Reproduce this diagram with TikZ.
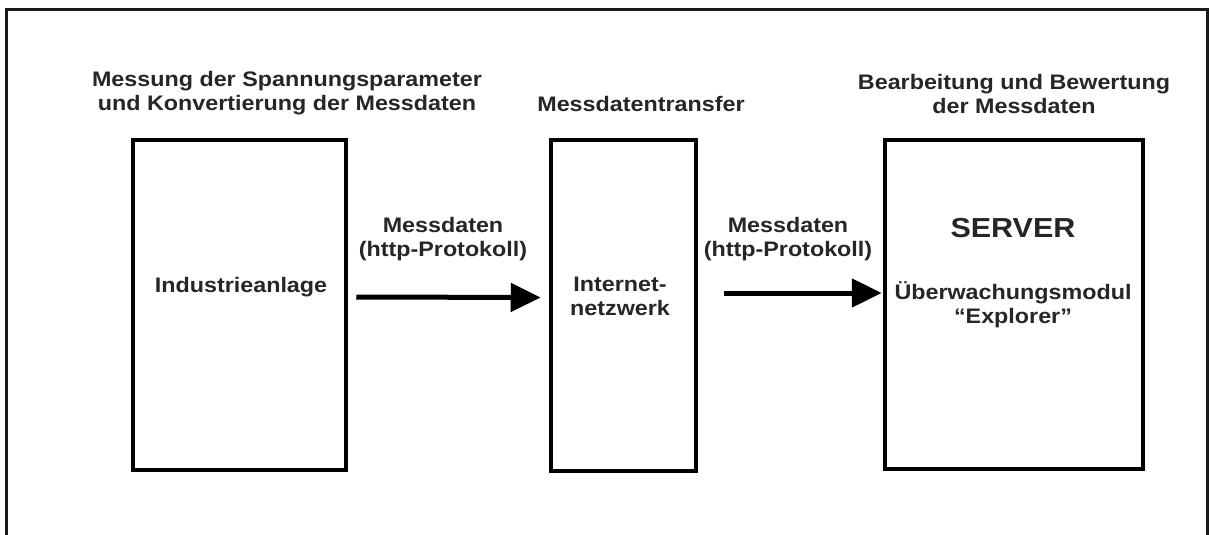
\documentclass[tikz,border=0pt]{standalone}
\usepackage{fontspec}
\setmainfont{Liberation Sans}[FakeStretch=1.11]
\usetikzlibrary{arrows.meta,calc}
\tikzset{
  blockbox/.style={draw=black, line width=4.5pt, inner sep=0pt, fill=white},
  lbl/.style={font=\fontsize{21}{24}\selectfont\bfseries, align=center, inner sep=0pt, text=black!85},
  bigl/.style={font=\fontsize{27.5}{30}\selectfont\bfseries, align=center, inner sep=0pt, text=black!85},
  flowarrow/.style={line width=5pt, -{Triangle[length=30pt,width=28pt]}},
  frameline/.style={line width=3pt, draw=black!90}
}
\begin{document}
\begin{tikzpicture}[x=1pt,y=-1pt]
\useasboundingbox (0,0) rectangle (1210,535);
\clip (0,0) rectangle (1210,535);
\fill[white] (0,0) rectangle (1210,535);
\coordinate (fbl) at (6,545);
\coordinate (ftl) at (6,10);
\coordinate (ftr) at (1207,10);
\coordinate (fbr) at (1207,545);
\draw[frameline] (fbl) -- (ftl) -- (ftr) -- (fbr);
% boxes
\node[blockbox, minimum width=213pt, minimum height=330pt] (b1) at (239.5,305) {};
\node[blockbox, minimum width=145pt, minimum height=331pt] (b2) at (623.5,305.5) {};
\node[blockbox, minimum width=258pt, minimum height=329pt] (b3) at (1014,304.5) {};
% headings
\node[lbl] (t1) at (287,93.5) {Messung der Spannungsparameter\\und Konvertierung der Messdaten};
\node[lbl] (t2) at (641,104) {Messdatentransfer};
\node[lbl] (t3) at (1014,93.5) {Bearbeitung und Bewertung\\der Messdaten};
% box texts
\node[lbl] (i1) at (241,287) {Industrieanlage};
\node[lbl] (i2) at (620,296.5) {Internet-\\netzwerk};
\node[bigl] (i3) at (1013,228) {SERVER};
\node[lbl] (i4) at (1013,305) {Überwachungsmodul\\“Explorer”};
% arrow labels
\node[lbl] (l1) at (443,239) {Messdaten\\(http-Protokoll)};
\node[lbl] (l2) at (788,239) {Messdaten\\(http-Protokoll)};
% arrows
\draw[flowarrow] ($(b1.east)+(8,-8)$) -- ($(b2.west)+(-8,-8)$);
\draw[flowarrow] ($(b2.east)+(26,-12.5)$) -- ($(b3.west)+(-1,-11.5)$);
\end{tikzpicture}
\end{document}
